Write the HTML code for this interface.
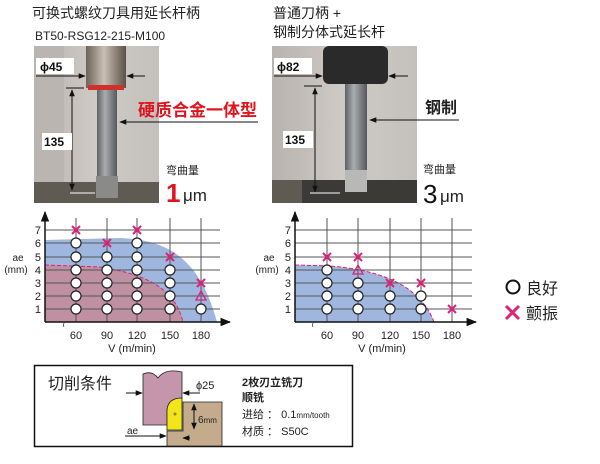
<!DOCTYPE html>
<html><head><meta charset="utf-8"><style>
body{margin:0;background:#fff;}
svg text{font-family:"Liberation Sans","Noto Sans CJK SC",sans-serif;}
</style></head><body>
<svg width="600" height="459" viewBox="0 0 600 459" xmlns="http://www.w3.org/2000/svg">
<defs>
<marker id="ah" viewBox="0 0 10 10" refX="9" refY="5" markerWidth="7" markerHeight="7" orient="auto-start-reverse"><path d="M0,1 L10,5 L0,9 z" fill="#111"/></marker>
<linearGradient id="bgL" x1="0" x2="1"><stop offset="0" stop-color="#b8b3ae"/><stop offset="0.5" stop-color="#cfcac5"/><stop offset="1" stop-color="#c4c0bc"/></linearGradient>
<linearGradient id="shank" x1="0" x2="1"><stop offset="0" stop-color="#5e6266"/><stop offset="0.4" stop-color="#a9adb0"/><stop offset="1" stop-color="#55595d"/></linearGradient>
<linearGradient id="hold" x1="0" x2="1"><stop offset="0" stop-color="#6b625a"/><stop offset="0.45" stop-color="#c9bfb2"/><stop offset="1" stop-color="#5a5048"/></linearGradient>
</defs>

<text x="32" y="18" font-size="14" fill="#222">可换式螺纹刀具用延长杆柄</text>
<text x="35" y="40" font-size="12" fill="#222">BT50-RSG12-215-M100</text>
<text x="273" y="18" font-size="14" fill="#222">普通刀柄 +</text>
<text x="273" y="37" font-size="14" fill="#222">钢制分体式延长杆</text>

<rect x="34" y="46" width="125" height="157" fill="url(#bgL)"/>
<rect x="34" y="46" width="30" height="157" fill="#bab5b0"/>
<rect x="86" y="46" width="40" height="42" fill="url(#hold)"/>
<rect x="88" y="85" width="36" height="5" fill="#d0302a"/>
<rect x="97" y="90" width="20" height="92" fill="url(#shank)"/>
<rect x="34" y="182" width="125" height="21" fill="#5f5a52"/>
<rect x="96" y="176" width="22" height="22" fill="#8a8a88"/>
<rect x="36" y="58" width="38" height="16" fill="#fff"/>
<text x="40" y="71" font-size="12" font-weight="bold" fill="#111">ϕ45</text>
<line x1="36" y1="76" x2="85" y2="76" stroke="#111" stroke-width="1" marker-end="url(#ah)"/>
<line x1="145" y1="76" x2="127" y2="76" stroke="#111" stroke-width="1" marker-end="url(#ah)"/>
<line x1="66" y1="88" x2="84" y2="88" stroke="#111"/>
<line x1="72" y1="90" x2="72" y2="190" stroke="#111" marker-start="url(#ah)" marker-end="url(#ah)"/>
<line x1="70" y1="193" x2="95" y2="193" stroke="#fff"/>
<rect x="42" y="133" width="30" height="17" fill="#fff"/>
<text x="44" y="146" font-size="12" font-weight="bold" fill="#111">135</text>
<text x="138" y="116" font-size="17" font-weight="bold" fill="#e0141e">硬质合金一体型</text>
<line x1="258" y1="122" x2="120" y2="122" stroke="#111" marker-end="url(#ah)"/>
<text x="166" y="174" font-size="11" fill="#222">弯曲量</text>
<text x="166" y="202" font-size="26" font-weight="bold" fill="#e0141e">1</text>
<text x="183" y="201" font-size="17" fill="#222">μm</text>

<rect x="272" y="46" width="145" height="157" fill="url(#bgL)"/>
<rect x="323" y="46" width="65" height="38" rx="6" fill="#2b2a2a"/>
<rect x="345" y="84" width="22" height="98" fill="url(#shank)"/>
<rect x="300" y="180" width="117" height="23" fill="#3c3a36"/>
<rect x="272" y="180" width="30" height="23" fill="#5f5a52"/>
<rect x="345" y="170" width="22" height="22" fill="#b8b8b6"/>
<rect x="274" y="58" width="38" height="16" fill="#fff"/>
<text x="277" y="71" font-size="12" font-weight="bold" fill="#111">ϕ82</text>
<line x1="274" y1="76" x2="322" y2="76" stroke="#111" marker-end="url(#ah)"/>
<line x1="408" y1="76" x2="389" y2="76" stroke="#111" marker-end="url(#ah)"/>
<line x1="304" y1="86" x2="322" y2="86" stroke="#111"/>
<line x1="315" y1="88" x2="315" y2="192" stroke="#111" marker-start="url(#ah)" marker-end="url(#ah)"/>
<line x1="310" y1="193" x2="340" y2="193" stroke="#fff"/>
<rect x="283" y="131" width="30" height="17" fill="#fff"/>
<text x="285" y="144" font-size="12" font-weight="bold" fill="#111">135</text>
<text x="425" y="113" font-size="16" font-weight="bold" fill="#222">钢制</text>
<line x1="459" y1="120" x2="370" y2="120" stroke="#111" marker-end="url(#ah)"/>
<text x="423" y="173" font-size="11" fill="#222">弯曲量</text>
<text x="423" y="203" font-size="26" fill="#111">3</text>
<text x="440" y="202" font-size="17" fill="#222">μm</text>

<path d="M45,240 L120,238 C170,240 200,260 217,322 L45,322 z" fill="#9fb6de"/>
<path d="M45,265 L100,267 C150,275 175,290 183,322 L45,322 z" fill="#bf8fa2"/>
<path d="M45,265 L100,267 C150,275 175,290 183,322" fill="none" stroke="#e0207a" stroke-width="1" stroke-dasharray="4,2"/>
<g stroke="#555" stroke-width="1">
<line x1="45" y1="309" x2="220" y2="309"/><line x1="45" y1="296" x2="220" y2="296"/><line x1="45" y1="283" x2="220" y2="283"/><line x1="45" y1="270" x2="220" y2="270"/><line x1="45" y1="257" x2="220" y2="257"/><line x1="45" y1="243" x2="220" y2="243"/><line x1="45" y1="230" x2="220" y2="230"/>
<line x1="76" y1="218" x2="76" y2="322"/><line x1="107" y1="218" x2="107" y2="322"/><line x1="137" y1="218" x2="137" y2="322"/><line x1="170" y1="218" x2="170" y2="322"/><line x1="201" y1="218" x2="201" y2="322"/>
</g>
<line x1="45" y1="322" x2="230" y2="322" stroke="#111" stroke-width="1.5" marker-end="url(#ah)"/>
<line x1="45" y1="322" x2="45" y2="212" stroke="#111" stroke-width="1.5" marker-end="url(#ah)"/>
<g font-size="11" fill="#222" text-anchor="end">
<text x="41" y="313">1</text><text x="41" y="300">2</text><text x="41" y="287">3</text><text x="41" y="274">4</text><text x="41" y="261">5</text><text x="41" y="247">6</text><text x="41" y="234">7</text>
</g>
<text x="18" y="261" font-size="10" fill="#222" text-anchor="middle">ae</text>
<text x="16" y="273" font-size="10" fill="#222" text-anchor="middle">(mm)</text>
<text x="62" y="327" font-size="9" fill="#333">≀</text>
<g font-size="11" fill="#222" text-anchor="middle">
<text x="76" y="339">60</text><text x="107" y="339">90</text><text x="137" y="339">120</text><text x="170" y="339">150</text><text x="201" y="339">180</text>
<text x="132" y="352">V (m/min)</text>
</g>
<g fill="#fff" stroke="#222" stroke-width="1.2">
<circle cx="76" cy="309" r="5"/><circle cx="76" cy="296" r="5"/><circle cx="76" cy="283" r="5"/><circle cx="76" cy="270" r="5"/><circle cx="76" cy="257" r="5"/><circle cx="76" cy="243" r="5"/>
<circle cx="107" cy="309" r="5"/><circle cx="107" cy="296" r="5"/><circle cx="107" cy="283" r="5"/><circle cx="107" cy="270" r="5"/><circle cx="107" cy="257" r="5"/>
<circle cx="137" cy="309" r="5"/><circle cx="137" cy="296" r="5"/><circle cx="137" cy="283" r="5"/><circle cx="137" cy="270" r="5"/><circle cx="137" cy="257" r="5"/><circle cx="137" cy="243" r="5"/>
<circle cx="170" cy="309" r="5"/><circle cx="170" cy="296" r="5"/><circle cx="170" cy="283" r="5"/><circle cx="170" cy="270" r="5"/>
<circle cx="201" cy="309" r="5"/>
</g>
<g stroke="#e0207a" stroke-width="2">
<path d="M72,226 l8,8 M80,226 l-8,8"/><path d="M103,239 l8,8 M111,239 l-8,8"/><path d="M133,226 l8,8 M141,226 l-8,8"/><path d="M166,253 l8,8 M174,253 l-8,8"/><path d="M197,279 l8,8 M205,279 l-8,8"/>
</g>
<path d="M201,291 l5,9 h-10 z" fill="none" stroke="#e0207a" stroke-width="1.3"/>

<path d="M295,265 L330,266 C380,270 420,285 434,322 L295,322 z" fill="#9fb6de"/>
<path d="M295,265 L330,266 C380,270 420,285 434,322" fill="none" stroke="#e0207a" stroke-width="1" stroke-dasharray="4,2"/>
<g stroke="#555" stroke-width="1">
<line x1="295" y1="309" x2="472" y2="309"/><line x1="295" y1="296" x2="472" y2="296"/><line x1="295" y1="283" x2="472" y2="283"/><line x1="295" y1="270" x2="472" y2="270"/><line x1="295" y1="257" x2="472" y2="257"/><line x1="295" y1="243" x2="472" y2="243"/><line x1="295" y1="230" x2="472" y2="230"/>
<line x1="327" y1="218" x2="327" y2="322"/><line x1="358" y1="218" x2="358" y2="322"/><line x1="390" y1="218" x2="390" y2="322"/><line x1="421" y1="218" x2="421" y2="322"/><line x1="452" y1="218" x2="452" y2="322"/>
</g>
<line x1="295" y1="322" x2="476" y2="322" stroke="#111" stroke-width="1.5" marker-end="url(#ah)"/>
<line x1="295" y1="322" x2="295" y2="212" stroke="#111" stroke-width="1.5" marker-end="url(#ah)"/>
<g font-size="11" fill="#222" text-anchor="end">
<text x="291" y="313">1</text><text x="291" y="300">2</text><text x="291" y="287">3</text><text x="291" y="274">4</text><text x="291" y="261">5</text><text x="291" y="247">6</text><text x="291" y="234">7</text>
</g>
<text x="269" y="261" font-size="10" fill="#222" text-anchor="middle">ae</text>
<text x="267" y="273" font-size="10" fill="#222" text-anchor="middle">(mm)</text>
<text x="311" y="327" font-size="9" fill="#333">≀</text>
<g font-size="11" fill="#222" text-anchor="middle">
<text x="327" y="339">60</text><text x="358" y="339">90</text><text x="390" y="339">120</text><text x="421" y="339">150</text><text x="452" y="339">180</text>
<text x="382" y="352">V (m/min)</text>
</g>
<g fill="#fff" stroke="#222" stroke-width="1.2">
<circle cx="327" cy="309" r="5"/><circle cx="327" cy="296" r="5"/><circle cx="327" cy="283" r="5"/><circle cx="327" cy="270" r="5"/>
<circle cx="358" cy="309" r="5"/><circle cx="358" cy="296" r="5"/><circle cx="358" cy="283" r="5"/>
<circle cx="390" cy="309" r="5"/><circle cx="390" cy="296" r="5"/>
<circle cx="421" cy="309" r="5"/><circle cx="421" cy="296" r="5"/>
</g>
<g stroke="#e0207a" stroke-width="2">
<path d="M323,253 l8,8 M331,253 l-8,8"/><path d="M354,253 l8,8 M362,253 l-8,8"/><path d="M386,279 l8,8 M394,279 l-8,8"/><path d="M417,279 l8,8 M425,279 l-8,8"/><path d="M448,305 l8,8 M456,305 l-8,8"/>
</g>
<path d="M358,265 l5,9 h-10 z" fill="none" stroke="#e0207a" stroke-width="1.3"/>

<circle cx="513" cy="287" r="6.5" fill="#fff" stroke="#111" stroke-width="2"/>
<text x="526" y="294" font-size="16" fill="#222">良好</text>
<path d="M506,306 l13,13 M519,306 l-13,13" stroke="#e0207a" stroke-width="3"/>
<text x="526" y="319" font-size="16" fill="#222">颤振</text>

<rect x="34.5" y="365.5" width="318" height="81" fill="#fff" stroke="#111" stroke-width="1.5"/>
<text x="48" y="389" font-size="16" fill="#222">切削条件</text>
<path d="M143,374 Q152,370 158,378 Q165,368 182,372 L182,398 Q168,398 167,410 L167,425 L143,425 z" fill="#c595ac" stroke="#222" stroke-width="0.8"/>
<path d="M167,430 L167,410 Q168,398 182,398 L182,430 z" fill="#f2e61a" stroke="#222" stroke-width="0.8"/>
<circle cx="175" cy="414" r="1.5" fill="#a07a00"/>
<path d="M167,446 L167,431 L183,431 L183,402 L222,402 L222,446 z" fill="#c4ab8c" stroke="#222" stroke-width="0.8"/>
<line x1="126" y1="393" x2="142" y2="393" stroke="#111" marker-end="url(#ah)"/>
<line x1="200" y1="393" x2="183" y2="393" stroke="#111" marker-end="url(#ah)"/>
<text x="196" y="389" font-size="11" fill="#222">ϕ25</text>
<line x1="194" y1="404" x2="194" y2="429" stroke="#111" marker-start="url(#ah)" marker-end="url(#ah)"/>
<text x="198" y="423" font-size="10" fill="#222">6<tspan font-size="8">mm</tspan></text>
<text x="127" y="434" font-size="10" fill="#222">ae</text>
<line x1="125" y1="436" x2="166" y2="436" stroke="#111" marker-end="url(#ah)"/>
<line x1="190" y1="438" x2="183" y2="438" stroke="#111" marker-end="url(#ah)"/>
<g font-size="11" fill="#222">
<text x="242" y="386" font-weight="bold">2枚刃立铣刀</text>
<text x="242" y="401" font-weight="bold">顺铣</text>
<text x="242" y="418">进给 ： 0.1<tspan font-size="8">mm/tooth</tspan></text>
<text x="242" y="435">材质 ： S50C</text>
</g>
</svg>
</body></html>
